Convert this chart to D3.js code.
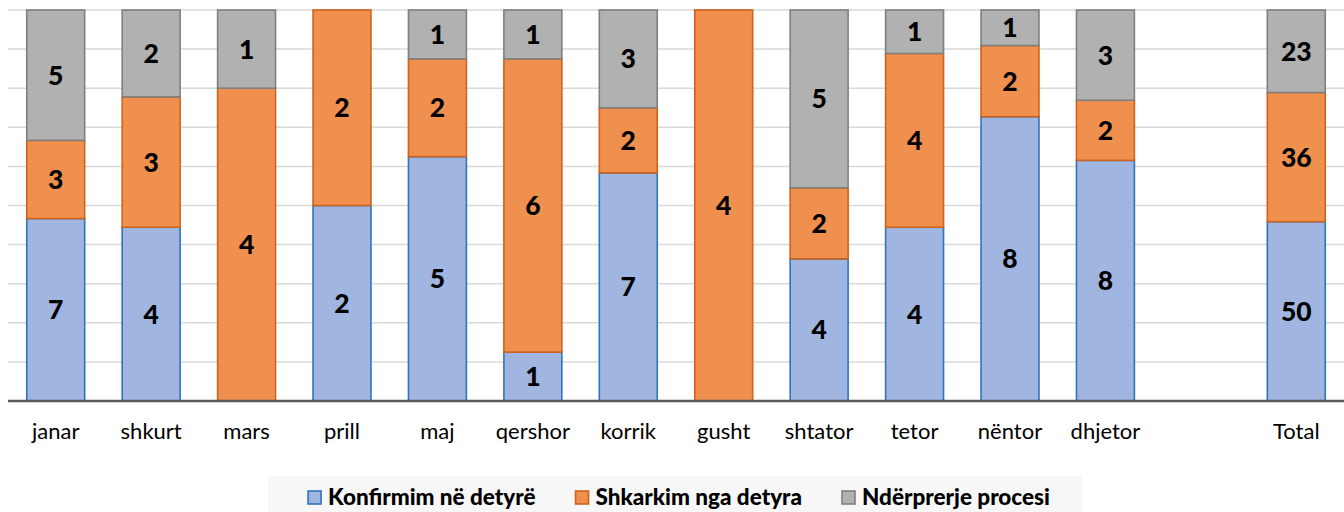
<!DOCTYPE html>
<html><head><meta charset="utf-8">
<script src="https://cdn.jsdelivr.net/npm/d3@7"></script>
<style>body{margin:0;background:#fff}svg{display:block}</style>
</head><body><svg id="c" width="1344" height="512"></svg>
<script>
const categories = ["janar","shkurt","mars","prill","maj","qershor","korrik","gusht","shtator","tetor","nëntor","dhjetor","","Total"];
const konfirmim  = [7,4,0,2,5,1,7,0,4,4,8,8,null,50];
const shkarkim   = [3,3,4,2,2,6,2,4,2,4,2,2,null,36];
const nderprerje = [5,2,1,0,1,1,3,0,5,1,1,3,null,23];
const seriesNames = ["Konfirmim në detyrë","Shkarkim nga detyra","Ndërprerje procesi"];
const gridTicks = [0,0.1,0.2,0.3,0.4,0.5,0.6,0.7,0.8,0.9,1];

const fills   = ["#a0b6e1","#f0904f","#b1b1b1"];
const strokes = ["#2f73ba","#d0621a","#7f7f7f"];
const FONT = "Lato, 'Open Sans', sans-serif";

const svg = d3.select("#c");
const W = 1344;
const x = d3.scaleBand().domain(categories.map((c,i)=>i)).range([8, 1344]).paddingInner(0.393).paddingOuter(0.1965);
const y = d3.scaleLinear().domain([0,1]).range([401, 10]);

// gridlines
svg.append("g").selectAll("line").data(gridTicks.slice(1)).join("line")
  .attr("x1", 8).attr("x2", W).attr("y1", d=>y(d)).attr("y2", d=>y(d))
  .attr("stroke", "#d9d9d9").attr("stroke-width", 1.5);

const series = [konfirmim, shkarkim, nderprerje];
const rows = categories.map((c,i)=>{
  const vals = series.map(s=>s[i]);
  const total = d3.sum(vals.map(v=>v||0));
  let cum = 0;
  return vals.map((v,k)=>{
    const f = total ? (v||0)/total : 0;
    const seg = {i, k, v, y0: cum, y1: cum + f};
    cum += f;
    return seg;
  });
});
const segs = rows.flat().filter(s=>s.v);

svg.append("g").selectAll("rect").data(segs).join("rect")
  .attr("x", d=>x(d.i)).attr("width", x.bandwidth())
  .attr("y", d=>y(d.y1)).attr("height", d=>y(d.y0)-y(d.y1))
  .attr("fill", d=>fills[d.k]).attr("stroke", d=>strokes[d.k]).attr("stroke-width", 1.6);

// axis
const xAxis = d3.axisBottom(x).tickSize(0).tickPadding(0).tickFormat(i=>categories[i]);
const ax = svg.append("g").attr("transform", "translate(0,401)").call(xAxis);
ax.select(".domain").remove();
ax.selectAll("text").attr("y", 38).attr("dy", 0).style("font-family", FONT).style("font-size", "22px").attr("fill", "#000");
svg.append("line").attr("x1", 8).attr("x2", W).attr("y1", 401).attr("y2", 401)
  .attr("stroke", "#595959").attr("stroke-width", 2.5);

// labels
svg.append("g").selectAll("text").data(segs).join("text")
  .attr("x", d=>x(d.i)+x.bandwidth()/2).attr("y", d=>(y(d.y0)+y(d.y1))/2)
  .attr("dy", "0.36em").attr("text-anchor", "middle")
  .style("font-family", FONT).style("font-weight", "900").style("font-size", "26.5px")
  .text(d=>d.v);

// legend
svg.append("rect").attr("x", 268).attr("y", 476).attr("width", 814).attr("height", 40).attr("fill", "#f7f7f7");
const lg = svg.append("g");
const items = lg.selectAll("g").data(seriesNames).join("g");
items.append("rect").attr("width", 13).attr("height", 13).attr("y", -14)
  .attr("fill", (d,k)=>fills[k]).attr("stroke", (d,k)=>strokes[k]).attr("stroke-width", 1.6);
const lt = items.append("text").attr("x", 20).attr("y", 0)
  .style("font-family", FONT).style("font-weight", "900").style("font-size", "22.5px").text(d=>d);
let pos = 0;
const offs = [];
lt.each(function(){ offs.push(pos); pos += 20 + this.getComputedTextLength() + 40; });
pos -= 40;
const start = 679 - pos/2;
items.attr("transform", (d,k)=>`translate(${start+offs[k]},505)`);
</script></body></html>
